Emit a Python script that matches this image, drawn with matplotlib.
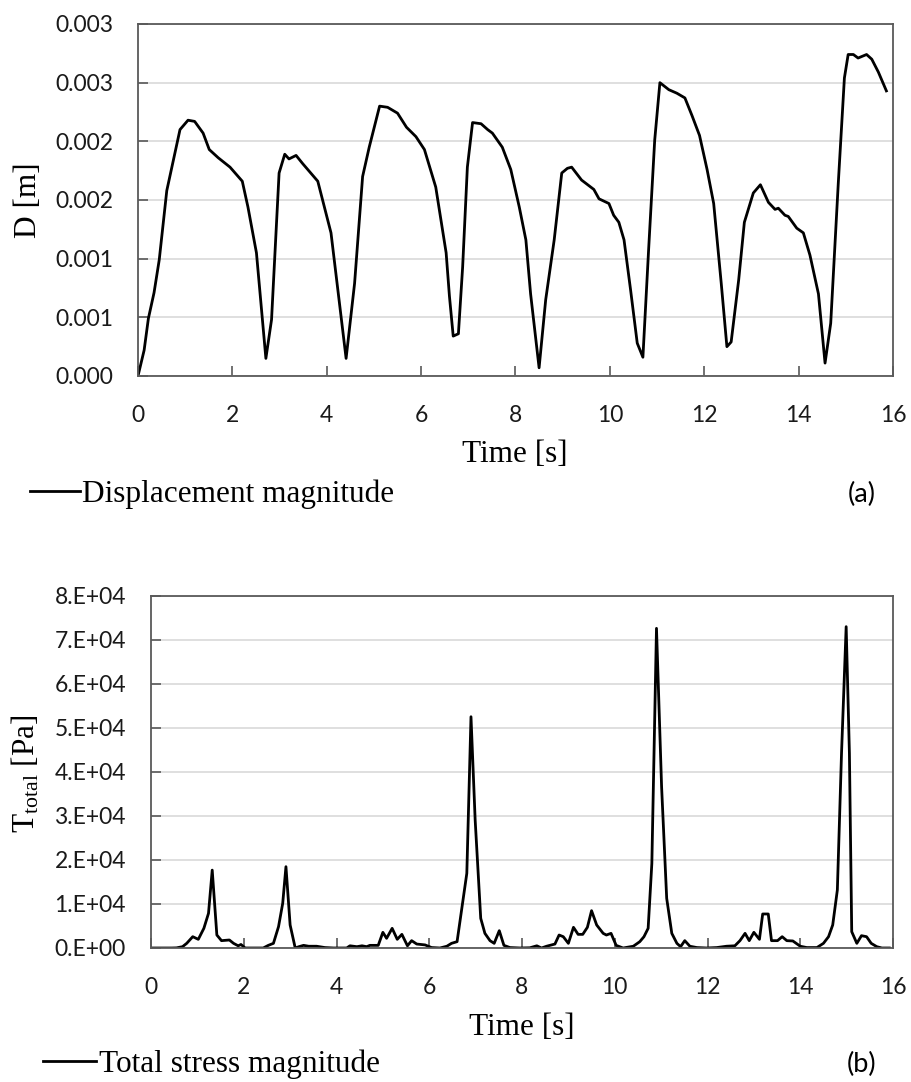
import matplotlib
matplotlib.use("Agg")
import matplotlib.pyplot as plt
from matplotlib.ticker import FixedLocator, FixedFormatter

# ---------------- data ----------------
disp_time = [0.00, 0.13, 0.22, 0.34, 0.45, 0.61, 0.75, 0.89, 1.06, 1.20, 1.38, 1.51, 1.70, 1.95,
             2.21, 2.33, 2.51, 2.71, 2.83, 2.99, 3.11, 3.20, 3.35, 3.49, 3.81, 4.09, 4.41, 4.59,
             4.76, 4.90, 5.12, 5.29, 5.50, 5.69, 5.89, 6.07, 6.31, 6.53, 6.60, 6.68, 6.79, 6.88,
             6.98, 7.09, 7.27, 7.41, 7.51, 7.72, 7.90, 8.08, 8.22, 8.32, 8.50, 8.64, 8.82, 8.98,
             9.10, 9.19, 9.40, 9.66, 9.77, 9.98, 10.08, 10.19, 10.30, 10.44, 10.58, 10.70, 10.82,
             10.95, 11.06, 11.25, 11.42, 11.59, 11.74, 11.90, 12.06, 12.20, 12.36, 12.48, 12.57,
             12.73, 12.85, 13.04, 13.19, 13.36, 13.50, 13.57, 13.71, 13.78, 13.96, 14.10, 14.24,
             14.42, 14.56, 14.68, 14.84, 14.97, 15.05, 15.16, 15.26, 15.44, 15.55, 15.69, 15.86]
disp_value = [0.00000, 0.00022, 0.00049, 0.00071, 0.00099, 0.00158, 0.00184, 0.00210, 0.00218,
              0.00217, 0.00207, 0.00193, 0.00186, 0.00178, 0.00166, 0.00144, 0.00105, 0.00015,
              0.00048, 0.00173, 0.00189, 0.00185, 0.00188, 0.00181, 0.00166, 0.00122, 0.00015,
              0.00079, 0.00170, 0.00195, 0.00230, 0.00229, 0.00224, 0.00212, 0.00204, 0.00193,
              0.00161, 0.00105, 0.00068, 0.00034, 0.00036, 0.00093, 0.00178, 0.00216, 0.00215,
              0.00210, 0.00207, 0.00195, 0.00176, 0.00144, 0.00116, 0.00070, 0.00007, 0.00065,
              0.00116, 0.00173, 0.00177, 0.00178, 0.00167, 0.00159, 0.00151, 0.00147, 0.00137,
              0.00131, 0.00116, 0.00073, 0.00028, 0.00016, 0.00107, 0.00201, 0.00250, 0.00244,
              0.00241, 0.00237, 0.00222, 0.00205, 0.00176, 0.00147, 0.00079, 0.00025, 0.00029,
              0.00082, 0.00131, 0.00156, 0.00163, 0.00148, 0.00142, 0.00143, 0.00137, 0.00136,
              0.00126, 0.00122, 0.00103, 0.00070, 0.00011, 0.00045, 0.00164, 0.00254, 0.00274,
              0.00274, 0.00271, 0.00274, 0.00270, 0.00259, 0.00243]

stress_time = [0.00, 0.45, 0.55, 0.68, 0.77, 0.90, 1.02, 1.14, 1.24, 1.32, 1.42, 1.52, 1.69, 1.78,
               1.88, 1.94, 2.03, 2.21, 2.42, 2.53, 2.64, 2.75, 2.84, 2.91, 3.00, 3.11, 3.19, 3.29,
               3.40, 3.57, 3.75, 3.94, 4.22, 4.29, 4.44, 4.55, 4.65, 4.72, 4.90, 5.00, 5.08, 5.20,
               5.31, 5.41, 5.53, 5.62, 5.73, 5.91, 6.05, 6.23, 6.38, 6.48, 6.60, 6.81, 6.90, 6.99,
               7.11, 7.20, 7.31, 7.40, 7.51, 7.61, 7.74, 7.96, 8.17, 8.32, 8.42, 8.53, 8.71, 8.80,
               8.89, 9.00, 9.11, 9.21, 9.31, 9.41, 9.50, 9.61, 9.75, 9.82, 9.92, 10.03, 10.18,
               10.40, 10.54, 10.63, 10.72, 10.80, 10.90, 11.01, 11.12, 11.23, 11.34, 11.42, 11.51,
               11.62, 11.77, 11.98, 12.20, 12.41, 12.59, 12.70, 12.81, 12.90, 13.00, 13.12, 13.19,
               13.31, 13.38, 13.51, 13.61, 13.71, 13.84, 14.00, 14.14, 14.36, 14.50, 14.61, 14.70,
               14.80, 14.89, 14.99, 15.06, 15.11, 15.22, 15.32, 15.43, 15.53, 15.65, 15.76, 15.92]
stress_value = [0, 0, 30, 300, 1060, 2570, 1970, 4470, 7880, 17700, 2950, 1670, 1820, 1060,
                500, 800, 0, 0, 0, 600, 1060, 4850, 10150, 18480, 5230, 0, 300, 600,
                400, 400, 100, 0, 0, 500, 300, 500, 300, 600, 600, 3560, 2200, 4470,
                1970, 3100, 500, 1670, 900, 700, 100, 0, 400, 1060, 1440, 16970, 52560, 29100,
                6740, 3330, 1670, 1060, 3940, 600, 100, 0, 50, 500, 0, 400, 900, 2950,
                2570, 1060, 4700, 3100, 3100, 4700, 8480, 5230, 3330, 2950, 3330, 600, 0,
                400, 1440, 2570, 4470, 19240, 72650, 36670, 11290, 3330, 1060, 300, 1670,
                400, 100, 0, 100, 400, 500, 1670, 3330, 1670, 3560, 1970, 7730,
                7730, 1670, 1670, 2570, 1670, 1600, 400, 100, 100, 1060, 2570, 5230,
                13180, 44250, 73030, 44250, 3710, 1060, 2800, 2570, 1060, 300, 0, 0]

x_ticks = [0, 2, 4, 6, 8, 10, 12, 14, 16]
disp_yticks = [0.0, 0.0005, 0.0010, 0.0015, 0.0020, 0.0025, 0.0030]
disp_ytick_labels = ["0.000", "0.001", "0.001", "0.002", "0.002", "0.003", "0.003"]
stress_yticks = [0, 10000, 20000, 30000, 40000, 50000, 60000, 70000, 80000]
stress_ytick_labels = ["0.E+00", "1.E+04", "2.E+04", "3.E+04", "4.E+04",
                       "5.E+04", "6.E+04", "7.E+04", "8.E+04"]

# ---------------- style ----------------
W, H = 912, 1082
plt.rcParams['mathtext.fontset'] = 'custom'
plt.rcParams['mathtext.rm'] = 'Liberation Serif'
plt.rcParams['mathtext.it'] = 'Liberation Serif:italic'

SERIF = 'Liberation Serif'
SANS = 'Lato'
spine_c = '#595959'
grid_c = '#d9d9d9'

fig = plt.figure(figsize=(W / 100, H / 100), dpi=100)


def px_axes(l, t, r, b):
    return fig.add_axes([l / W, 1 - b / H, (r - l) / W, (b - t) / H])


def style(ax, yticks, ylabels, ymax):
    ax.set_xlim(0, 16)
    ax.set_ylim(0, ymax)
    ax.xaxis.set_major_locator(FixedLocator(x_ticks))
    ax.yaxis.set_major_locator(FixedLocator(yticks))
    ax.yaxis.set_major_formatter(FixedFormatter(ylabels))
    ax.set_xticklabels([str(t) for t in x_ticks])
    for s in ax.spines.values():
        s.set_color(spine_c)
        s.set_linewidth(1.3)
    ax.grid(axis='y', color=grid_c, linewidth=1.2)
    ax.set_axisbelow(True)
    ax.tick_params(axis='both', direction='in', length=7, width=1.2, color=spine_c,
                   labelsize=16.5, labelcolor='#1a1a1a')
    ax.tick_params(axis='x', pad=21)
    ax.tick_params(axis='y', pad=18)
    for lab in ax.get_xticklabels() + ax.get_yticklabels():
        lab.set_family(SANS)


# ---- top chart ----
ax1 = px_axes(138, 24, 893, 376)
line1, = ax1.plot(disp_time, disp_value, color='black', linewidth=2.0)
style(ax1, disp_yticks, disp_ytick_labels, 0.0030)
# ---- bottom chart ----
ax2 = px_axes(151, 596, 893, 948)
line2, = ax2.plot(stress_time, stress_value, color='black', linewidth=2.0)
style(ax2, stress_yticks, stress_ytick_labels, 80000)

# axis titles
fig.text(515 / W, 1 - 462 / H, 'Time [s]', family=SERIF, fontsize=22.5,
         ha='center', va='baseline')
fig.text(522 / W, 1 - 1035 / H, 'Time [s]', family=SERIF, fontsize=22.5,
         ha='center', va='baseline')
fig.text(29 / W, 1 - 200 / H, 'D [m]', family=SERIF, fontsize=22.5,
         rotation=90, ha='center', va='center')
fig.text(26 / W, 1 - 774 / H, r'T$_{\mathrm{total}}$ [Pa]', family=SERIF, fontsize=22.5,
         rotation=90, ha='center', va='center')

# legends
fig.legend([line1], ['Displacement magnitude'], loc='center left',
           bbox_to_anchor=(30 / W, 1 - 494 / H), frameon=False, borderpad=0,
           borderaxespad=0, handlelength=1.6, handletextpad=0.08,
           prop={'family': SERIF, 'size': 22.5})
fig.legend([line2], ['Total stress magnitude'], loc='center left',
           bbox_to_anchor=(43 / W, 1 - 1064 / H), frameon=False, borderpad=0,
           borderaxespad=0, handlelength=1.7, handletextpad=0.08,
           prop={'family': SERIF, 'size': 22.5})

fig.text(862 / W, 1 - 494 / H, '(a)', family=SANS, fontsize=19.5, ha='center', va='center')
fig.text(862 / W, 1 - 1064 / H, '(b)', family=SANS, fontsize=19.5, ha='center', va='center')

fig.savefig('out.png', dpi=100)
